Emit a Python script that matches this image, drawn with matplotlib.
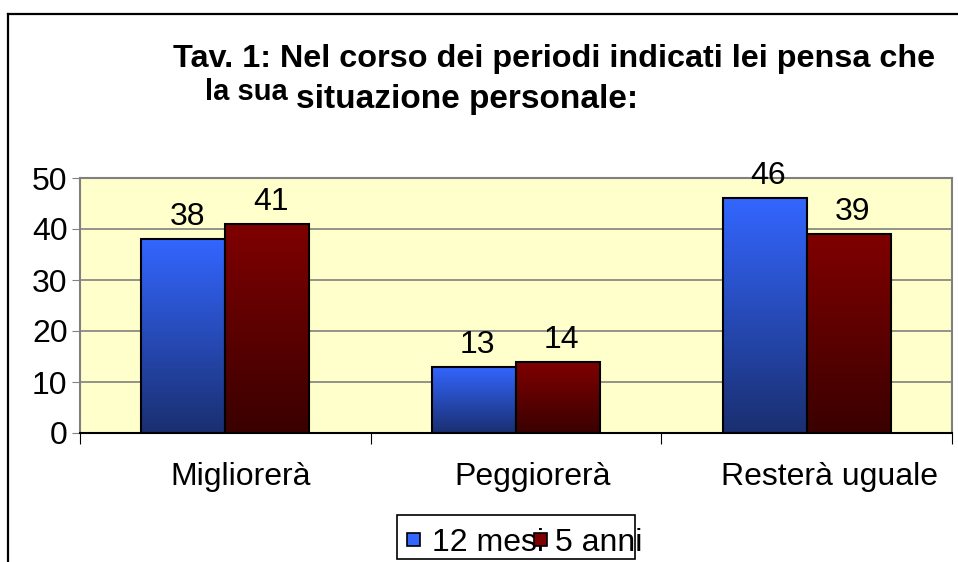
import matplotlib
matplotlib.use("Agg")
import matplotlib.pyplot as plt
import numpy as np
from matplotlib.patches import Rectangle
from matplotlib.lines import Line2D
from matplotlib.colors import LinearSegmentedColormap

categories = ["Migliorerà", "Peggiorerà", "Resterà uguale"]
series_names = ["12 mesi", "5 anni"]
mesi12 = [38, 13, 46]
anni5 = [41, 14, 39]
yticks = [0, 10, 20, 30, 40, 50]

plt.rcParams['font.family'] = ['Liberation Sans', 'DejaVu Sans']

W, H = 958, 562
FS = 23
SHIFT = 0.1075  # text laid out narrower than drawn in the original -> slight right shift
fig = plt.figure(figsize=(W / 100, H / 100), dpi=100)

# outer chart frame (left and top)
fig.add_artist(Line2D([8 / W, 8 / W], [0, 1 - 14 / H], color='black', lw=1.6, transform=fig.transFigure))
fig.add_artist(Line2D([8 / W, 1], [1 - 14 / H, 1 - 14 / H], color='black', lw=1.6, transform=fig.transFigure))

left, right, top, bottom = 80, 952, 178, 433
ax = fig.add_axes([left / W, 1 - bottom / H, (right - left) / W, (bottom - top) / H])
ax.set_facecolor('#FFFFCC')

x = np.arange(len(categories))
w = 0.289
ax.set_xlim(-0.5, len(categories) - 0.5)
ax.set_ylim(0, 50)

for yv in yticks[1:-1]:
    ax.axhline(yv, color='#808080', lw=1.2, zorder=1)

cm_blue = LinearSegmentedColormap.from_list('b', ['#3366FF', '#1A2F70'])
cm_red = LinearSegmentedColormap.from_list('r', ['#800000', '#3A0000'])
grad = np.linspace(0, 1, 256).reshape(-1, 1)

shifted = []
for vals, off, cmap in [(mesi12, -w / 2, cm_blue), (anni5, w / 2, cm_red)]:
    bars = ax.bar(x + off, vals, width=w, color='none', edgecolor='black', linewidth=1.5, zorder=3)
    for b, v in zip(bars, vals):
        x0 = b.get_x()
        im = ax.imshow(grad, extent=[x0, x0 + w, 0, v], origin='upper', aspect='auto',
                       cmap=cmap, zorder=2, interpolation='bilinear')
        im.set_clip_path(Rectangle((x0, 0), w, v, transform=ax.transData))
        t = ax.annotate(str(v), (x0 + w / 2, v), xytext=(0, 5), textcoords='offset points',
                        ha='center', va='bottom', fontsize=FS, color='black')
        shifted.append((t, 5))

ax.set_xlim(-0.5, len(categories) - 0.5)
ax.set_ylim(0, 50)

ax.set_yticks(yticks)
ax.set_yticklabels([str(t) for t in yticks], fontsize=FS)
ax.tick_params(axis='y', direction='out', length=6, color='#808080', pad=3)

ax.set_xticks(np.arange(len(categories) + 1) - 0.5)
ax.set_xticklabels([''] * (len(categories) + 1))
ax.tick_params(axis='x', which='major', direction='out', length=8, color='black')

for xc, name in zip(x, categories):
    t = ax.annotate(name, (xc, 0), xycoords=('data', 'axes fraction'), xytext=(0, -21),
                    textcoords='offset points', ha='center', va='top', fontsize=FS)
    shifted.append((t, -21))

for s in ['top', 'right', 'left']:
    ax.spines[s].set_color('#808080')
    ax.spines[s].set_linewidth(1.5)
ax.spines['bottom'].set_color('black')
ax.spines['bottom'].set_linewidth(1.5)

# title
fig.text(173 / W, 1 - 67 / H, "Tav. 1: Nel corso dei periodi indicati lei pensa che",
         fontsize=23.3, fontweight='bold', ha='left', va='baseline')
fig.text(205 / W, 1 - 100 / H, "la sua", fontsize=21, fontweight='bold', ha='left', va='baseline')
fig.text(296 / W, 1 - 108 / H, "situazione personale:", fontsize=24, fontweight='bold',
         ha='left', va='baseline')

# legend (drawn manually to reproduce the original's overlapping entries)
fig.add_artist(Rectangle((397 / W, 1 - 559 / H), (635 - 397) / W, (559 - 515) / H,
                         transform=fig.transFigure, facecolor='white', edgecolor='black',
                         lw=1.2, zorder=5))
leg_colors = ['#3366FF', '#800000']
marker_x = [407, 534]
text_x = [432, 555]
for name, c, mx, tx in zip(series_names, leg_colors, marker_x, text_x):
    fig.text(tx / W, 1 - 551 / H, name, fontsize=FS, ha='left', va='baseline', zorder=6)
    fig.add_artist(Rectangle((mx / W, 1 - 546 / H), 13 / W, 13 / H, transform=fig.transFigure,
                             facecolor=c, edgecolor='black', lw=1.2, zorder=7))

fig.canvas.draw()
r = fig.canvas.get_renderer()
for t, dy in shifted:
    wpx = t.get_window_extent(r).width
    t.xyann = (SHIFT * wpx * 72 / fig.dpi, dy)

fig.savefig('out.png', dpi=100, facecolor='white')
